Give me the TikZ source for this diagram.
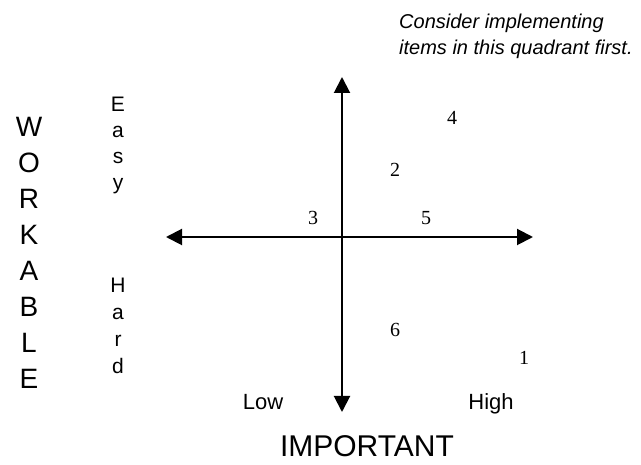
\documentclass[tikz,border=0pt]{standalone}
\usepackage{fontspec}
\setmainfont{Liberation Serif}
\setsansfont{Liberation Sans}
\usetikzlibrary{arrows.meta}

\tikzset{
  axis/.style={line width=2pt, {Triangle[length=16pt,width=16pt]}-{Triangle[length=16pt,width=16pt]}},
  item/.style={inner sep=0pt, font=\fontsize{20}{24}\selectfont\rmfamily},
  label/.style={inner sep=0pt, font=\fontsize{22}{26}\selectfont\sffamily}
}

\begin{document}
\begin{tikzpicture}[x=1pt,y=-1pt]
\useasboundingbox (0,0) rectangle (641,465);

%% axis ends
\coordinate (top) at (342,77);
\coordinate (bottom) at (342,412);
\coordinate (left) at (166,237);
\coordinate (right) at (533,237);

%% axes
\draw[axis] (bottom) -- (top);
\draw[axis] (left) -- (right);

%% items
\node[item] (i1) at (524,358) {1};
\node[item] (i2) at (395,170) {2};
\node[item] (i3) at (313,218) {3};
\node[item] (i4) at (452,118) {4};
\node[item] (i5) at (426,218) {5};
\node[item] (i6) at (395,330) {6};

%% axis labels
\node[label, anchor=base] (low) at (263,410) {Low};
\node[label, anchor=base] (high) at (491,410) {High};
\node[inner sep=0pt, anchor=base, font=\fontsize{30}{36}\selectfont\sffamily] (important) at (367,457) {IMPORTANT};
\node[inner sep=0pt, anchor=north, align=center, font=\fontsize{28}{36}\selectfont\sffamily] (workable) at (29,117) {W\\O\\R\\K\\A\\B\\L\\E};
\node[inner sep=0pt, anchor=north, align=center, font=\fontsize{21}{26}\selectfont\sffamily] (easy) at (118,97) {E\\a\\s\\y};
\node[inner sep=0pt, anchor=north, align=center, font=\fontsize{21}{27}\selectfont\sffamily] (hard) at (118,278) {H\\a\\r\\d};

%% note
\node[inner sep=0pt, anchor=north west, align=left, font=\fontsize{20}{26}\selectfont\sffamily\itshape] (note) at (399,14) {Consider implementing\\items in this quadrant first.};
\end{tikzpicture}
\end{document}
